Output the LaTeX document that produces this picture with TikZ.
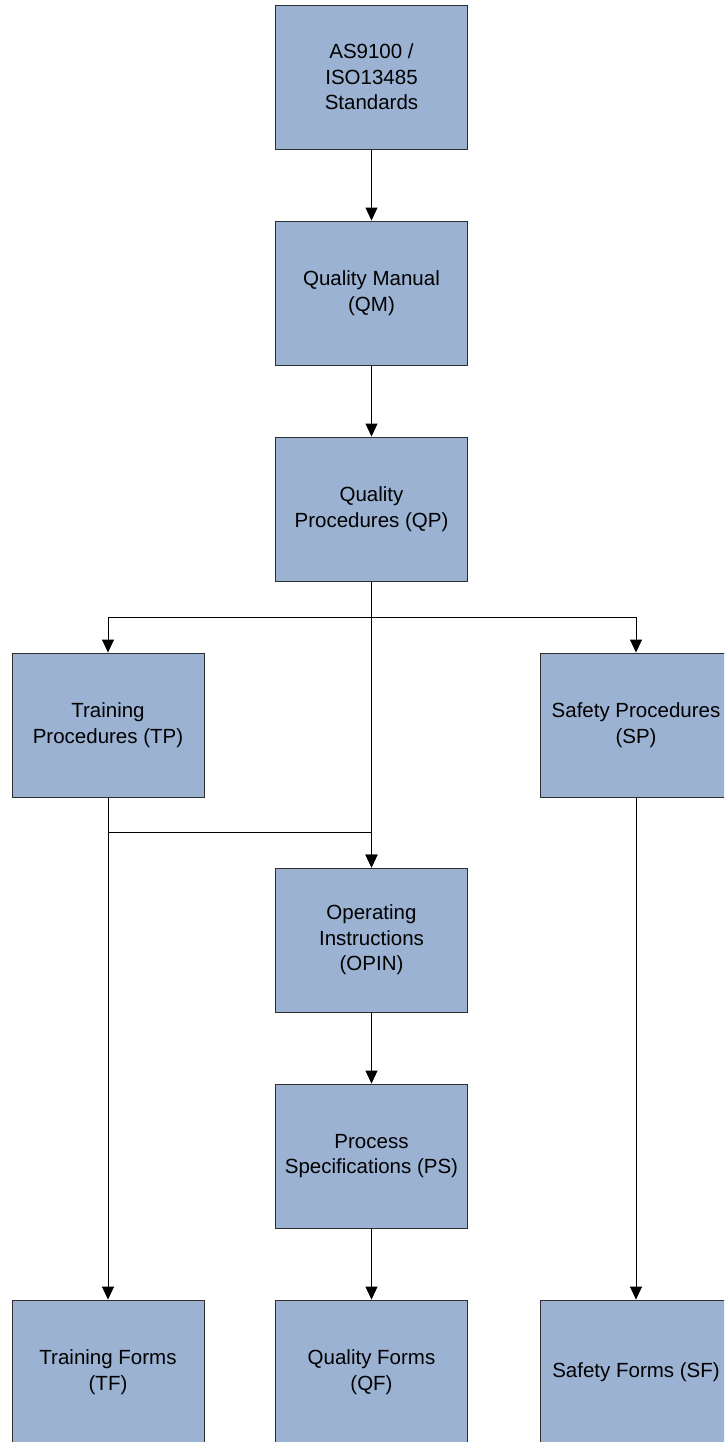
\documentclass[tikz,border=0pt]{standalone}
\usepackage{fontspec}
\setmainfont{Liberation Sans}
\usepackage{xcolor}
\usetikzlibrary{arrows.meta}
\definecolor{boxblue}{RGB}{155,178,210}
\definecolor{boxedge}{RGB}{45,45,45}

\begin{document}
\begin{tikzpicture}[x=1pt,y=-1pt,
  docbox/.style={draw=boxedge,fill=boxblue,line width=0.9pt,minimum width=192pt,
    minimum height=144pt,inner sep=0pt,align=center,
    font=\fontsize{20.5}{25.5}\selectfont},
  link/.style={draw=black,line width=0.9pt,-{Triangle[length=13pt,width=12pt]}}]
\def\colL{108}
\def\colM{371.5}
\def\colR{636}
\useasboundingbox (0,0) rectangle (724,1442);
\clip (0,0) rectangle (724,1442);

\node[docbox] (STD) at (\colM,77) {AS9100 /\\ISO13485\\Standards};
\node[docbox] (QM) at (\colM,293) {Quality Manual\\(QM)};
\node[docbox] (QP) at (\colM,509) {Quality\\Procedures (QP)};
\node[docbox] (TP) at (\colL,725) {Training\\Procedures (TP)};
\node[docbox] (SP) at (\colR,725) {Safety Procedures\\(SP)};
\node[docbox] (OPIN) at (\colM,940) {Operating\\Instructions\\(OPIN)};
\node[docbox] (PS) at (\colM,1156) {Process\\Specifications (PS)};
\node[docbox] (TF) at (\colL,1372) {Training Forms\\(TF)};
\node[docbox] (QF) at (\colM,1372) {Quality Forms\\(QF)};
\node[docbox] (SF) at (\colR,1372) {Safety Forms (SF)};

\coordinate (split) at (\colM,617);
\coordinate (tpjoin) at (\colL,832);

\draw[link] (STD) -- (QM);
\draw[link] (QM) -- (QP);
\draw[line width=0.9pt] (QP.south) -- (split);
\draw[link] (split) -| (TP.north);
\draw[link] (split) -| (SP.north);
\draw[link] (QP) -- (OPIN);
\draw[link] (TP) -- (TF);
\draw[link] (tpjoin) -| (OPIN.north);
\draw[link] (SP) -- (SF);
\draw[link] (OPIN) -- (PS);
\draw[link] (PS) -- (QF);

\end{tikzpicture}
\end{document}
